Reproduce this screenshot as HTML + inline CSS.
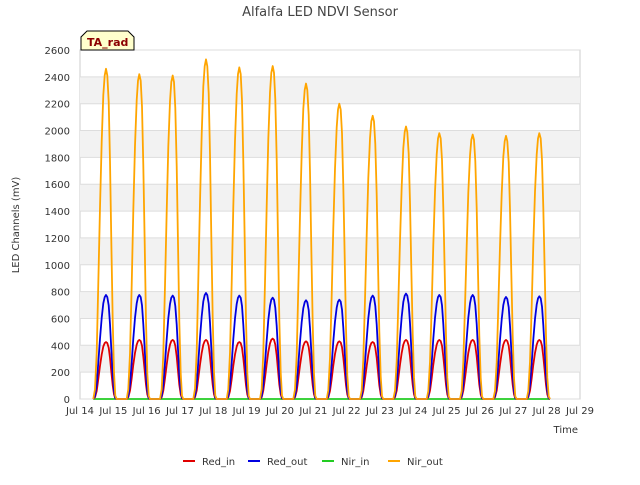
<!DOCTYPE html>
<html><head><meta charset="utf-8"><style>
body{margin:0;background:#fff;font-family:"Liberation Sans","DejaVu Sans",sans-serif}
svg text{font-family:"DejaVu Sans","Liberation Sans",sans-serif}
</style></head><body>
<svg id="c" width="640" height="480" xmlns="http://www.w3.org/2000/svg">
<text x="320" y="16" text-anchor="middle" font-size="13" fill="#444">Alfalfa LED NDVI Sensor</text>
<g id="grid"></g>
<g id="series"></g>
<g id="axes"></g>
<text x="19" y="225" text-anchor="middle" font-size="10" fill="#333" transform="rotate(-90 19 225)">LED Channels (mV)</text>
<text x="578" y="433" text-anchor="end" font-size="10" fill="#333">Time</text>
<g>
<path d="M81,50 L81,37 L87,31 L128,31 L134,37 L134,50 Z" fill="#ffffcc" stroke="#000" stroke-width="1"/>
<text x="87" y="46" font-size="11" font-weight="bold" fill="#8b0000">TA_rad</text>
</g>
<g id="legend"></g>
</svg>
<script>
const days=[14,15,16,17,18,19,20,21,22,23,24,25,26,27];
const nirOutPeaks=[2460,2420,2410,2530,2470,2480,2350,2200,2110,2030,1980,1970,1960,1980];
const redOutPeaks=[775,775,770,790,770,755,735,740,770,785,775,775,760,765];
const redInPeaks=[425,440,440,440,425,450,430,430,425,440,440,440,440,440];
const nirInPeaks=[0,0,0,0,0,0,0,0,0,0,0,0,0,0];
const profileT=[0.4,0.45,0.5,0.55,0.6,0.65,0.7,0.74,0.78,0.82,0.86,0.9,0.94,0.98,1.02,1.06,1.1];
const profileF=[0,0.03,0.14,0.35,0.58,0.78,0.92,0.98,1,0.98,0.9,0.72,0.48,0.24,0.08,0.01,0];
const yTicks=[0,200,400,600,800,1000,1200,1400,1600,1800,2000,2200,2400,2600];
const xTicks=[14,15,16,17,18,19,20,21,22,23,24,25,26,27,28,29];
const L=80,R=580,T=50,B=399;
const X=d=>L+(d-14)*(R-L)/15;
const Y=v=>B-v*(B-T)/2600;
const NS="http://www.w3.org/2000/svg";
function mk(p,tag,at){const e=document.createElementNS(NS,tag);for(const k in at)e.setAttribute(k,at[k]);p.appendChild(e);return e;}
const grid=document.getElementById('grid'),axes=document.getElementById('axes'),ser=document.getElementById('series');
mk(grid,'rect',{x:L,y:T,width:R-L,height:B-T,fill:'#fff',stroke:'#ccc'});
for(let i=0;i<yTicks.length-1;i++){if(i%2===1){const r=mk(grid,'rect',{x:L,y:Y(yTicks[i+1]),width:R-L,height:Y(yTicks[i])-Y(yTicks[i+1]),fill:'#f2f2f2'});}}
yTicks.forEach(v=>{const l=mk(grid,'line',{x1:L,x2:R,y1:Y(v),y2:Y(v),stroke:'#ddd'});
const t=mk(axes,'text',{x:L-10,y:Y(v)+4,'text-anchor':'end','font-size':10,fill:'#333'});t.textContent=v;});
xTicks.forEach(d=>{const t=mk(axes,'text',{x:X(d),y:414,'text-anchor':'middle','font-size':10,fill:'#333'});t.textContent='Jul '+d;});
function series(peaks,color,name){let pts=[];days.forEach((d,i)=>{profileT.forEach((t,j)=>pts.push(X(d+t).toFixed(1)+','+Y(peaks[i]*profileF[j]).toFixed(1)));});
const p=mk(ser,'polyline',{points:pts.join(' '),fill:'none',stroke:color,'stroke-width':1.8,'stroke-linejoin':'round'});}
series(nirInPeaks,'#22cc22','nir-in-line');
series(redInPeaks,'#e00000','red-in-line');
series(redOutPeaks,'#0000e0','red-out-line');
series(nirOutPeaks,'#ffa500','nir-out-line');
const lg=document.getElementById('legend');
[['Red_in','#e00000',183],['Red_out','#0000e0',248],['Nir_in','#22cc22',322],['Nir_out','#ffa500',388]].forEach(([n,c,x])=>{
const g=mk(lg,'g',{});
mk(g,'line',{x1:x,x2:x+12,y1:461,y2:461,stroke:c,'stroke-width':2});
const t=mk(g,'text',{x:x+19,y:465,'font-size':10,fill:'#333'});t.textContent=n;});
</script>
</body></html>
